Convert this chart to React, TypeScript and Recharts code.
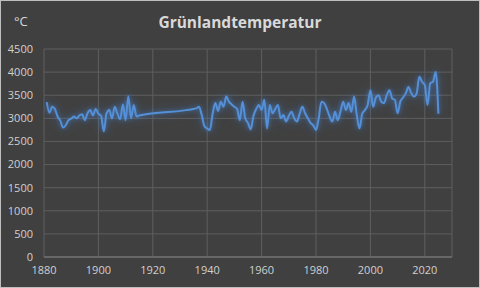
import React from "react";
import { LineChart, Line, XAxis, YAxis, CartesianGrid } from "recharts";

const years1: number[] = [
  1881, 1882, 1883, 1884, 1885, 1886, 1887, 1888, 1889, 1890,
  1891, 1892, 1893, 1894, 1895, 1896, 1897, 1898, 1899, 1900,
  1901, 1902, 1903, 1904, 1905, 1906, 1907, 1908, 1909, 1910,
  1911, 1912, 1913, 1914, 1915,
];
const values1: number[] = [
  3350, 3120, 3250, 3200, 3040, 2950, 2800, 2850, 2960, 2990,
  3040, 3000, 3060, 3090, 2960, 3110, 3180, 3060, 3200, 3100,
  3050, 2720, 3110, 3180, 3000, 3250, 3100, 2980, 3300, 2960,
  3480, 3000, 3290, 3040, 3060,
];

const years2: number[] = [
  1936, 1937, 1938, 1939, 1940, 1941, 1942, 1943, 1944, 1945,
  1946, 1947, 1948, 1949, 1950, 1951, 1952, 1953, 1954, 1955,
  1956, 1957, 1958, 1959, 1960, 1961, 1962, 1963, 1964, 1965,
  1966, 1967, 1968, 1969, 1970, 1971, 1972, 1973, 1974, 1975,
  1976, 1977, 1978, 1979, 1980, 1981, 1982, 1983, 1984, 1985,
  1986, 1987, 1988, 1989, 1990, 1991, 1992, 1993, 1994, 1995,
  1996, 1997, 1998, 1999, 2000, 2001, 2002, 2003, 2004, 2005,
  2006, 2007, 2008, 2009, 2010, 2011, 2012, 2013, 2014, 2015,
  2016, 2017, 2018, 2019, 2020, 2021, 2022, 2023, 2024, 2025,
];
const values2: number[] = [
  3215, 3250, 3070, 2830, 2780, 2750, 3100, 3330, 3160, 3360,
  3250, 3470, 3360, 3300, 3250, 3200, 2960, 3360, 3000, 2900,
  2760, 3050, 3200, 3290, 3180, 3400, 2780, 3290, 3110, 3200,
  3290, 3000, 3070, 2930, 3050, 3145, 3000, 2930, 3100, 3250,
  3110, 3000, 2900, 2850, 2750, 3000, 3360, 3330, 3200, 3040,
  2930, 3140, 2960, 3150, 3360, 3180, 3330, 3140, 3470, 3070,
  2780, 3100, 3180, 3290, 3610, 3250, 3450, 3500, 3360, 3330,
  3500, 3610, 3430, 3400, 3110, 3360, 3450, 3540, 3680, 3550,
  3470, 3540, 3900, 3790, 3720, 3290, 3760, 3790, 4000, 3100,
];

const xTicks: number[] = [1880, 1900, 1920, 1940, 1960, 1980, 2000, 2020];
const yTicks: number[] = [0, 500, 1000, 1500, 2000, 2500, 3000, 3500, 4000, 4500];

const title = "Grünlandtemperatur";
const unit = "°C";

const data = [
  ...years1.map((y, i) => ({ year: y, value: values1[i] })),
  ...years2.map((y, i) => ({ year: y, value: values2[i] })),
];

const font = "'Open Sans', 'Noto Sans', sans-serif";
const textColor = "#d0d0d0";

export default function App() {
  return (
    <div
      style={{
        position: "relative",
        width: 480,
        height: 288,
        background: "#404040",
        fontFamily: font,
        outline: "1px solid #bfbfbf",
        outlineOffset: -1,
      }}
    >
      <style>{`body{margin:0} .recharts-line-curve{filter: drop-shadow(0 0 2px rgba(70,130,210,0.6)) drop-shadow(0 0 5px rgba(70,130,210,0.45));}`}</style>
      <div
        style={{
          position: "absolute",
          left: 0,
          width: 480,
          top: 11,
          textAlign: "center",
          color: "#d9d9d9",
          fontWeight: 700,
          fontSize: 15.5,
          lineHeight: "22px",
        }}
      >
        {title}
      </div>
      <div
        style={{
          position: "absolute",
          left: 14,
          top: 11,
          color: "#d9d9d9",
          fontSize: 13,
          lineHeight: "20px",
        }}
      >
        {unit}
      </div>
      <LineChart
        width={480}
        height={288}
        data={data}
        margin={{ top: 49, right: 28, left: 0, bottom: 0 }}
      >
        <CartesianGrid stroke="#5e5e5e" strokeWidth={1} />
        <XAxis
          dataKey="year"
          type="number"
          domain={[1880, 2030]}
          ticks={xTicks}
          height={31}
          tickSize={0}
          tickMargin={9}
          stroke="#808080"
          tick={{ fill: textColor, fontSize: 11, fontFamily: font }}
          allowDataOverflow
        />
        <YAxis
          domain={[0, 4500]}
          ticks={yTicks}
          width={44}
          axisLine={false}
          tickLine={false}
          tickSize={0}
          tickMargin={11}
          tick={{ fill: textColor, fontSize: 11, fontFamily: font }}
        />
        <Line
          type="monotone"
          dataKey="value"
          stroke="#5590d6"
          strokeWidth={2}
          dot={false}
          isAnimationActive={false}
        />
      </LineChart>
    </div>
  );
}
